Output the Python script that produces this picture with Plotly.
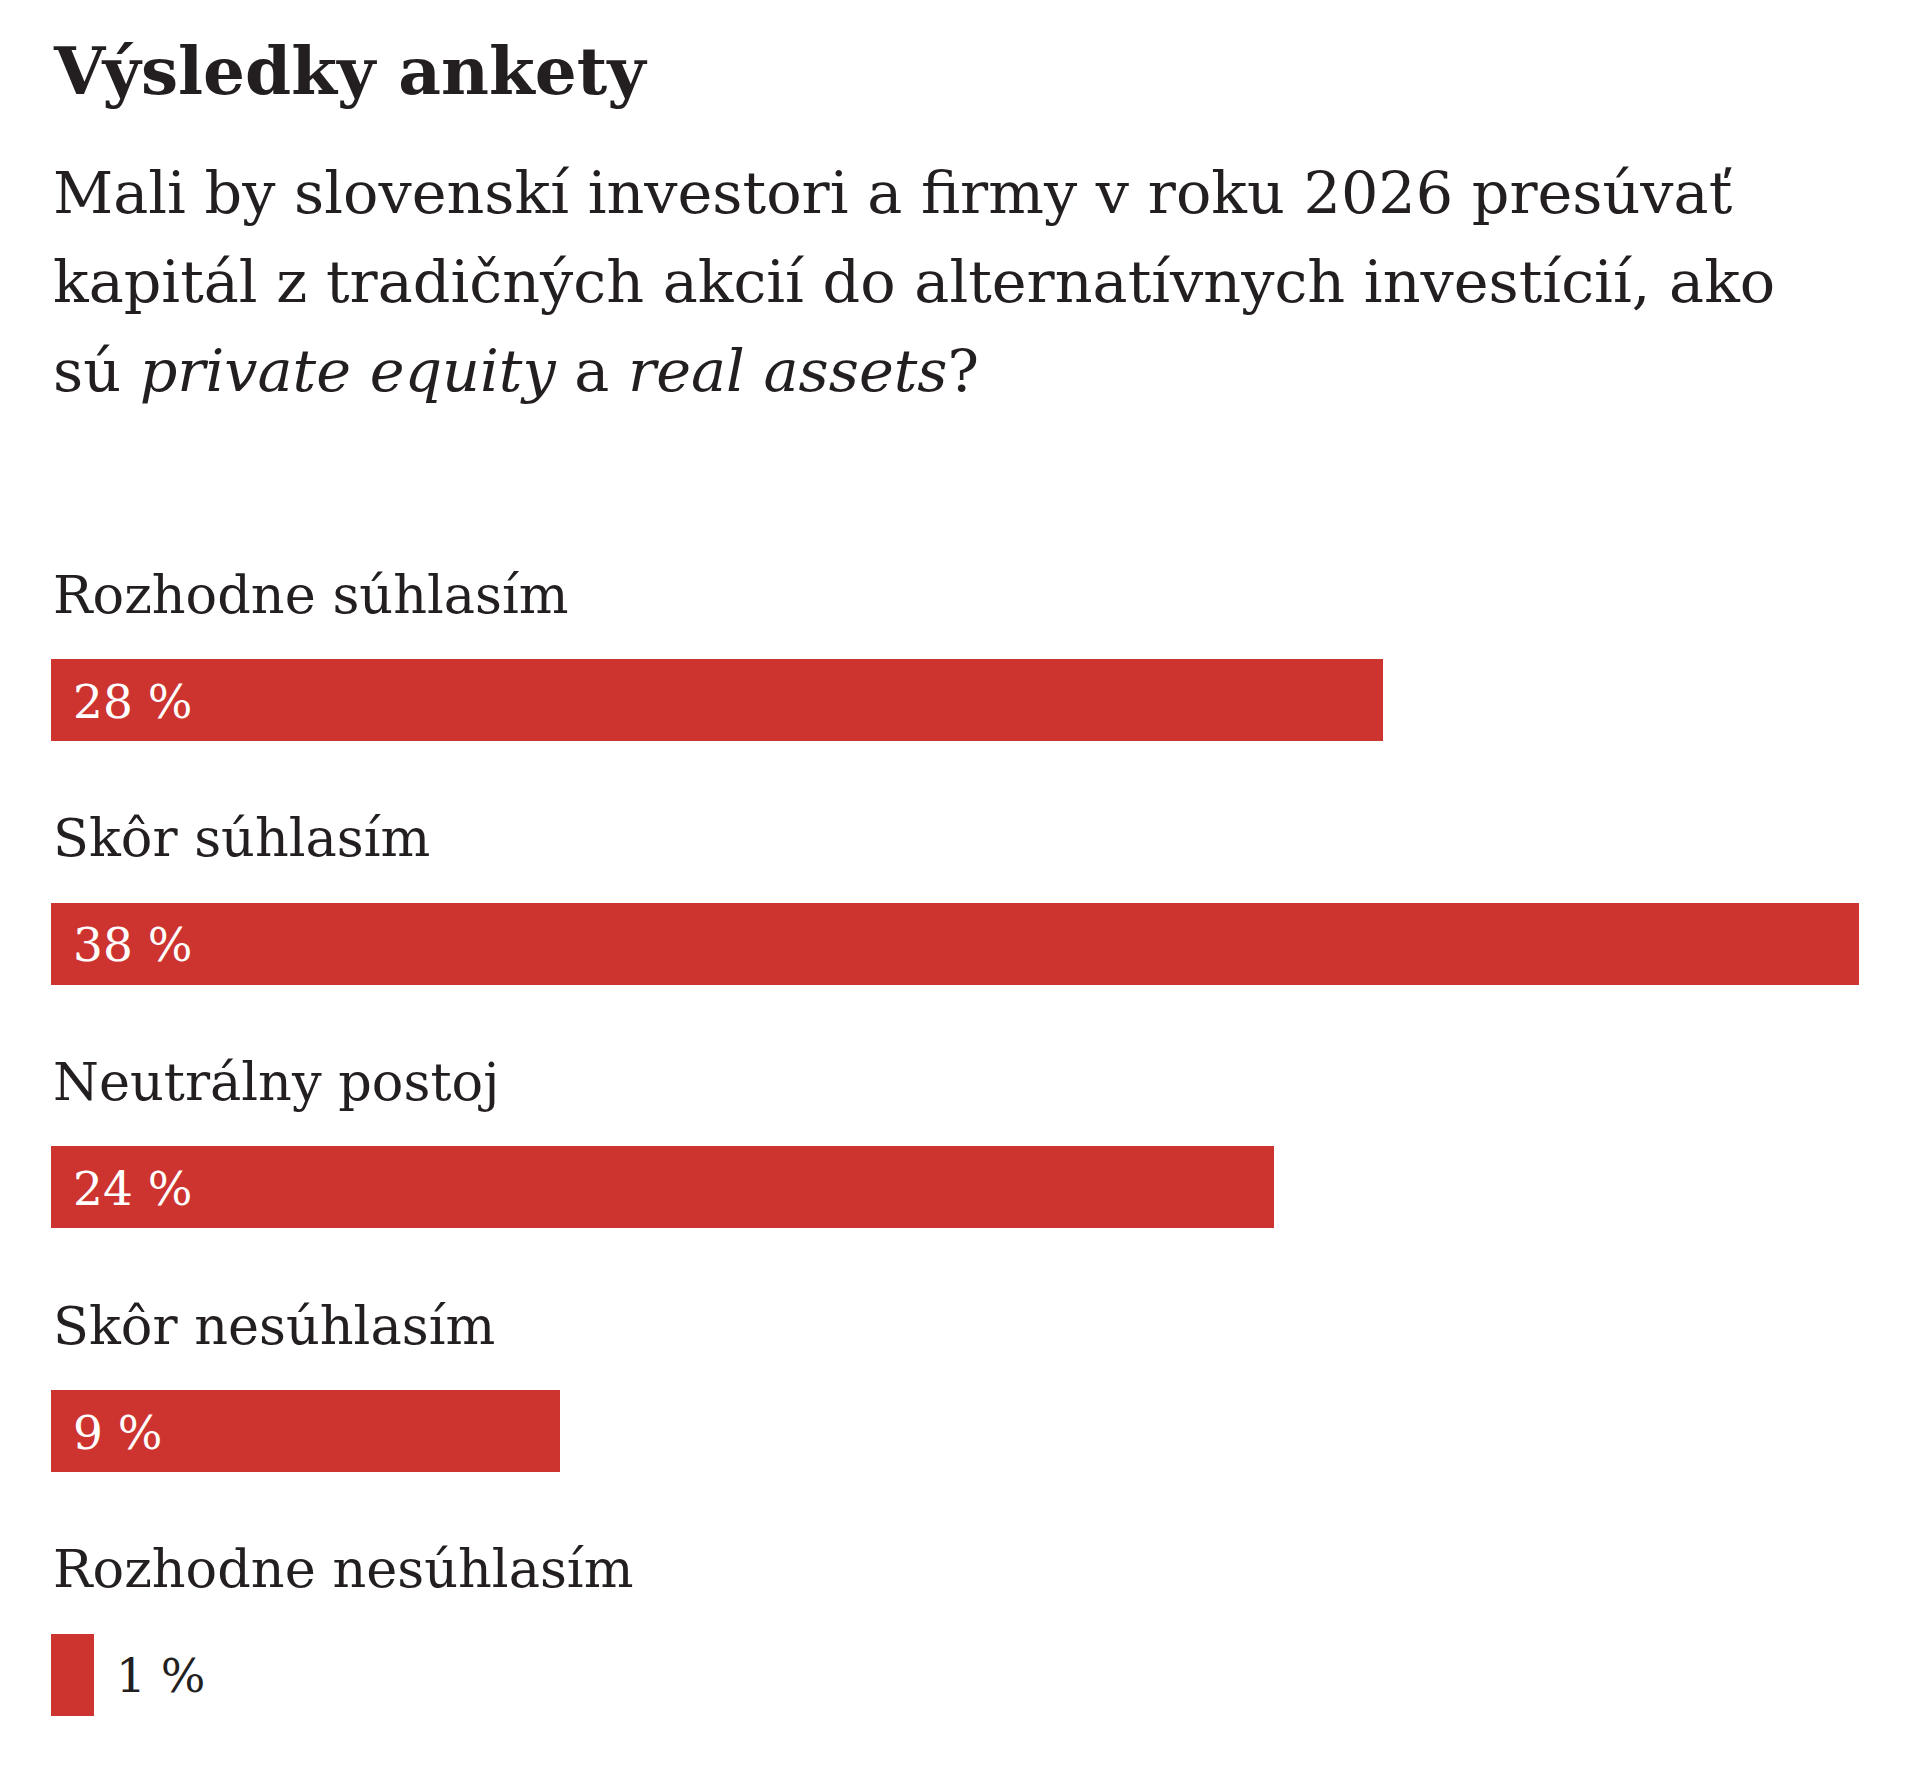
import plotly.graph_objects as go

# ---- data ----
categories = [
    "Rozhodne súhlasím",
    "Skôr súhlasím",
    "Neutrálny postoj",
    "Skôr nesúhlasím",
    "Rozhodne nesúhlasím",
]
percent_labels = ["28 %", "38 %", "24 %", "9 %", "1 %"]
bar_lengths = [28.0, 38.0, 25.7, 10.7, 0.9]   # bar lengths as drawn in the reference (percent units)

title_text = "Výsledky ankety"
subtitle_lines = [
    "Mali by slovenskí investori a firmy v roku 2026 presúvať",
    "kapitál z tradičných akcií do alternatívnych investícií, ako",
    "sú <i>private equity</i> a <i>real assets</i>?",
]

# ---- style ----
OFF = 8                            # page body margin added by the browser
W, H = 1920 - 2 * OFF, 1780 - 2 * OFF
RED = "#CD3430"
INK = "#231F20"
FONT = "DejaVu Serif"

M_L = 51 - OFF
M_R = W - (1859 - OFF)
PLOT_TOP, PLOT_BOTTOM = 432 - OFF, 1772 - OFF
UNIT = 243.7                      # px per category step
Y_TOP = -1.1
Y_BOTTOM = Y_TOP + (PLOT_BOTTOM - PLOT_TOP) / UNIT
BAR_W = 82 / UNIT
X_MAX = max(bar_lengths)

ypos = list(range(len(categories)))

fig = go.Figure()
fig.add_trace(go.Bar(
    x=bar_lengths,
    y=ypos,
    base=0,
    orientation="h",
    width=BAR_W,
    marker=dict(color=RED, line=dict(width=0)),
    hoverinfo="skip",
    showlegend=False,
))


def paper_y(py):
    py = py - OFF
    return (PLOT_BOTTOM - py) / (PLOT_BOTTOM - PLOT_TOP)


annotations = []
# title (baseline ~95)
TFS = 66
annotations.append(dict(
    text="<b>" + title_text + "</b>", xref="paper", yref="paper", x=0, y=paper_y(94 - 0.345 * TFS),
    xanchor="left", yanchor="middle", showarrow=False,
    font=dict(family=FONT, size=TFS, color=INK),
))
# subtitle lines (baselines 213, 303, 391)
SFS = 58.8
for line, base in zip(subtitle_lines, [213, 302, 391]):
    annotations.append(dict(
        text=line, xref="paper", yref="paper", x=0, y=paper_y(base - 0.345 * SFS),
        xanchor="left", yanchor="middle", showarrow=False,
        font=dict(family=FONT, size=SFS, color=INK),
    ))

# category labels above bars
for i, cat in enumerate(categories):
    annotations.append(dict(
        text=cat, xref="x", yref="y", x=0, y=i, yshift=106,
        xanchor="left", yanchor="middle", showarrow=False,
        font=dict(family=FONT, size=52.5, color=INK),
    ))

# value labels
for i, (lab, v) in enumerate(zip(percent_labels, bar_lengths)):
    inside = v >= 3
    annotations.append(dict(
        text=lab, xref="x", yref="y", x=0 if inside else v, y=i,
        xshift=20, yshift=-1,
        xanchor="left", yanchor="middle", showarrow=False,
        font=dict(family=FONT, size=47, color="white" if inside else INK),
    ))

fig.update_layout(
    width=W, height=H,
    margin=dict(l=M_L, r=M_R, t=PLOT_TOP, b=H - PLOT_BOTTOM, pad=0),
    paper_bgcolor="white",
    plot_bgcolor="white",
    xaxis=dict(range=[0, X_MAX], visible=False, fixedrange=True),
    yaxis=dict(range=[Y_BOTTOM, Y_TOP], visible=False, fixedrange=True),
    annotations=annotations,
    bargap=0,
    hovermode=False,
)

fig.write_html("out.html", config={"displayModeBar": False})
